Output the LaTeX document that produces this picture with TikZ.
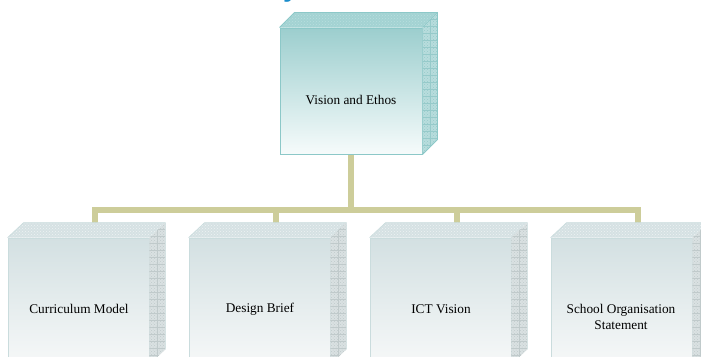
\documentclass[tikz,border=0pt]{standalone}
\usepackage{fontspec}
\setmainfont{Liberation Serif}
\newfontfamily\titlefont{Liberation Sans}
\usetikzlibrary{patterns,calc}
\definecolor{conncol}{HTML}{CDCD9A}
\definecolor{tealtop}{HTML}{9CCECE}
\definecolor{tealbot}{HTML}{F6FBFB}
\definecolor{tealedge}{HTML}{8CC8C8}
\definecolor{tealface}{HTML}{A3D3D3}
\definecolor{tealside}{HTML}{B8DDDD}
\definecolor{tealgrid}{HTML}{96CACA}
\definecolor{graytop}{HTML}{D3E0E2}
\definecolor{graybot}{HTML}{F6F8F8}
\definecolor{grayedge}{HTML}{CADCDD}
\definecolor{grayface}{HTML}{D5E1E3}
\definecolor{grayside}{HTML}{DAE1E2}
\definecolor{graygrid}{HTML}{C0CACB}
\definecolor{titleblue}{HTML}{1A8CCB}
\tikzset{
  lbl/.style={font=\fontsize{13.3}{16}\selectfont, align=center, inner sep=0pt, text=black},
  topfront/.style={draw=tealedge, line width=1pt, top color=tealtop, bottom color=tealbot,
    minimum width=142pt, minimum height=126pt, inner sep=0pt},
  botfront/.style={draw=grayedge, line width=0.8pt, top color=graytop, bottom color=graybot,
    minimum width=141pt, minimum height=126pt, inner sep=0pt},
  conn/.style={draw=conncol, line width=6pt, line join=miter},
}
\begin{document}
\begin{tikzpicture}[x=1pt,y=-1pt]
\useasboundingbox (0,0) rectangle (701,356);
% partial title glyph cut off at the top
\node[anchor=base west, inner sep=0pt, text=titleblue,
  font=\titlefont\bfseries\fontsize{28}{28}\selectfont] (titlefrag) at (283,-3) {y};

% ---------- boxes ----------
\node[topfront] (vision) at (351,91) {};
\node[botfront] (cm)  at (78.5,301) {};
\node[botfront] (db)  at (259.5,301) {};
\node[botfront] (ict) at (440.5,301) {};
\node[botfront] (sos) at (621.5,301) {};

% connector coordinates
\coordinate (bus) at (351,209.5);
\coordinate (d1) at ($(cm.north west)+(87,-15)$);
\coordinate (d2) at ($(db.north west)+(87,-15)$);
\coordinate (d3) at ($(ict.north west)+(87,-15)$);
\coordinate (d4) at ($(sos.north west)+(87,-15)$);

% ---------- connectors (behind faces) ----------
\draw[conn] (vision.south) -- (bus);
\draw[conn] (d1) -- (d1 |- bus) -- (d4 |- bus) -- (d4);
\draw[conn] (d2 |- bus) -- (d2);
\draw[conn] (d3 |- bus) -- (d3);

% ---------- 3D faces: top box ----------
\fill[tealface] (vision.north west) -- ++(15,-15) -- ($(vision.north east)+(15,-15)$) -- (vision.north east) -- cycle;
\fill[pattern=crosshatch dots, pattern color=tealedge!60] (vision.north west) -- ++(15,-15) -- ($(vision.north east)+(15,-15)$) -- (vision.north east) -- cycle;
\fill[tealside] (vision.north east) -- ++(15,-15) -- ($(vision.south east)+(15,-15)$) -- (vision.south east) -- cycle;
\fill[pattern=crosshatch dots, pattern color=tealgrid] (vision.north east) -- ++(15,-15) -- ($(vision.south east)+(15,-15)$) -- (vision.south east) -- cycle;
\begin{scope}
  \clip (vision.north east) -- ++(15,-15) -- ($(vision.south east)+(15,-15)$) -- (vision.south east) -- cycle;
  \foreach \k in {0,...,20} \draw[tealgrid, line width=0.4pt] ($(vision.north east)+(0,-15+7*\k)$) -- ++(15,0);
  \draw[tealgrid, line width=0.4pt] ($(vision.north east)+(7.5,-20)$) -- ($(vision.south east)+(7.5,0)$);
\end{scope}
\draw[tealedge, line width=0.8pt] (vision.north west) -- ++(15,-15) -- ($(vision.north east)+(15,-15)$) -- ($(vision.south east)+(15,-15)$) -- (vision.south east);
\draw[tealedge, line width=0.6pt] (vision.north east) -- ++(15,-15);
\node[lbl] (visionlbl) at (351,100) {Vision and Ethos};

% ---------- 3D faces: bottom boxes ----------
\foreach \b in {cm,db,ict,sos}{
  \fill[grayface] (\b.north west) -- ++(16,-15) -- ($(\b.north east)+(16,-15)$) -- (\b.north east) -- cycle;
  \fill[pattern=crosshatch dots, pattern color=white!60!grayface] (\b.north west) -- ++(16,-15) -- ($(\b.north east)+(16,-15)$) -- (\b.north east) -- cycle;
  \fill[grayside] (\b.north east) -- ++(16,-15) -- ($(\b.south east)+(16,-15)$) -- (\b.south east) -- cycle;
  \fill[pattern=crosshatch dots, pattern color=graygrid] (\b.north east) -- ++(16,-15) -- ($(\b.south east)+(16,-15)$) -- (\b.south east) -- cycle;
  \begin{scope}
    \clip (\b.north east) -- ++(16,-15) -- ($(\b.south east)+(16,-15)$) -- (\b.south east) -- cycle;
    \foreach \k in {0,...,20} \draw[graygrid, line width=0.4pt] ($(\b.north east)+(0,-15+7*\k)$) -- ++(16,0);
    \draw[graygrid, line width=0.4pt] ($(\b.north east)+(8,-20)$) -- ($(\b.south east)+(8,0)$);
  \end{scope}
  \draw[grayedge, line width=0.6pt] (\b.north west) -- ++(16,-15) -- ($(\b.north east)+(16,-15)$) -- ($(\b.south east)+(16,-15)$);
}
\node[lbl] (cmlbl)  at (79,309)  {Curriculum Model};
\node[lbl] (dblbl)  at (260,309) {Design Brief};
\node[lbl] (ictlbl) at (441,309) {ICT Vision};
\node[lbl] (soslbl) at (621,317) {School Organisation\\Statement};
\end{tikzpicture}
\end{document}
